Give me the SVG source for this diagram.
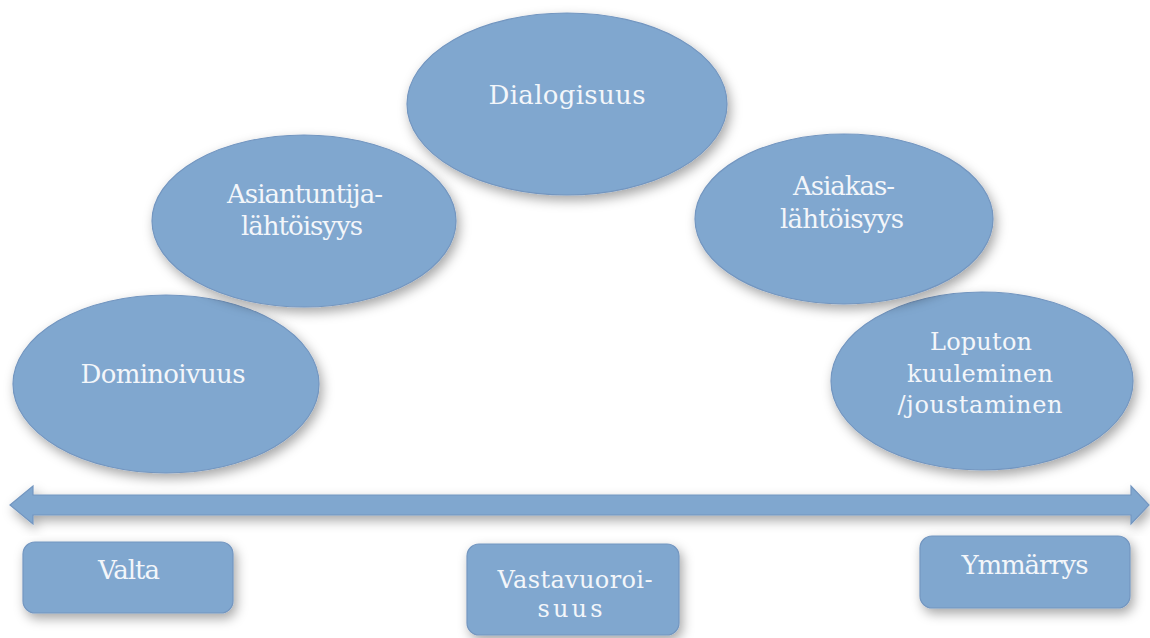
<svg xmlns="http://www.w3.org/2000/svg" width="1150" height="638" viewBox="0 0 1150 638">
<defs>
<filter id="sh" x="-20%" y="-20%" width="140%" height="150%">
<feDropShadow dx="3" dy="5" stdDeviation="6" flood-color="#000" flood-opacity="0.35"/>
</filter>
<style>
.n{fill:#80A7CF;stroke:#7396C0;stroke-width:1.2;filter:url(#sh)}
.t{fill:#F3F6FA;font-family:"DejaVu Serif","Liberation Serif",serif;font-size:26px;text-anchor:middle}
.s{font-size:24px}
</style>
</defs>
<rect width="1150" height="638" fill="#fff"/>
<g id="connectors">
<polygon class="n" points="10,505 33,486 33,495 1131,495 1131,486 1149,505 1131,524 1131,515 33,515 33,524"/>
</g>
<g id="dominoivuus">
<ellipse class="n" cx="166" cy="384" rx="153" ry="89"/>
<text class="t" x="163" y="383" textLength="165">Dominoivuus</text>
</g>
<g id="loputon">
<ellipse class="n" cx="982" cy="381" rx="151" ry="89"/>
<text class="t s" x="981" y="350" textLength="102">Loputon</text>
<text class="t s" x="980" y="382" textLength="146">kuuleminen</text>
<text class="t s" x="980" y="413" textLength="165">/joustaminen</text>
</g>
<g id="asiantuntija">
<ellipse class="n" cx="304" cy="221" rx="152" ry="86"/>
<text class="t" x="305" y="203" textLength="156">Asiantuntija-</text>
<text class="t" x="302" y="235" textLength="122">lähtöisyys</text>
</g>
<g id="asiakas">
<ellipse class="n" cx="844" cy="219" rx="149" ry="85"/>
<text class="t" x="844" y="195" textLength="102">Asiakas-</text>
<text class="t" x="842" y="228" textLength="124">lähtöisyys</text>
</g>
<g id="dialogisuus">
<ellipse class="n" cx="567" cy="104" rx="160" ry="91"/>
<text class="t" x="567" y="104" textLength="157">Dialogisuus</text>
</g>
<g id="valta">
<rect class="n" x="23" y="542" width="210" height="71" rx="12"/>
<text class="t" x="129" y="579" textLength="62">Valta</text>
</g>
<g id="vastavuoroisuus">
<rect class="n" x="467" y="544" width="212" height="91" rx="12"/>
<text class="t s" x="575" y="588" textLength="155">Vastavuoroi-</text>
<text class="t s" x="570" y="617" textLength="65">suus</text>
</g>
<g id="ymmarrys">
<rect class="n" x="920" y="536" width="210" height="72" rx="12"/>
<text class="t" x="1025" y="574" textLength="127">Ymmärrys</text>
</g>
</svg>
